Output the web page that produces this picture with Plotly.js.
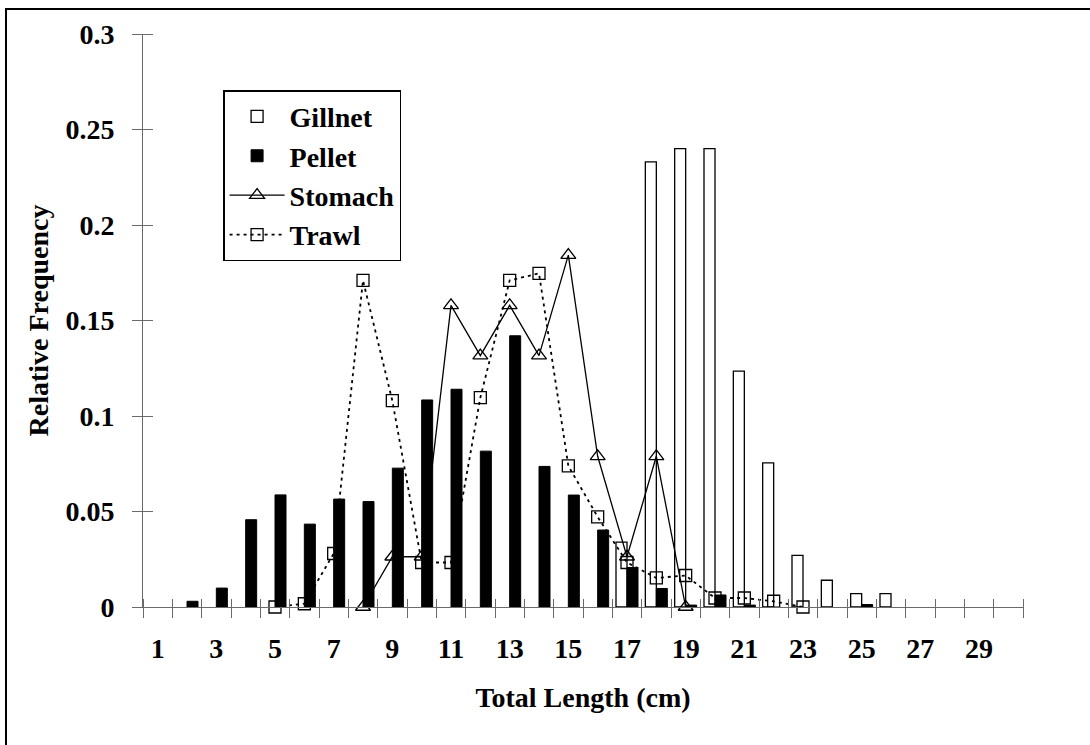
<!DOCTYPE html>
<html>
<head>
<meta charset="utf-8">
<script src="https://cdn.plot.ly/plotly-3.0.1.min.js"></script>
<style>
  html, body { margin: 0; padding: 0; background: #fff; overflow: hidden; }
  #chart { width: 1090px; height: 745px; position: absolute; left: 0; top: 0; }
  #frame { position: absolute; left: 5px; top: 8px; width: 1200px; height: 900px;
           border-left: 2px solid #000; border-top: 2px solid #000; pointer-events: none; }
</style>
</head>
<body>
<div id="chart"></div>
<div id="frame"></div>
<script>
// ---- data ----
const gillnetLengths = [17, 18, 19, 20, 21, 22, 23, 24, 25, 26];
const gillnetFreq    = [0.034, 0.233, 0.240, 0.240, 0.1235, 0.0755, 0.027, 0.014, 0.007, 0.007];

const pelletLengths = [2, 3, 4, 5, 6, 7, 8, 9, 10, 11, 12, 13, 14, 15, 16, 17, 18, 19, 20, 21, 25];
const pelletFreq    = [0.003, 0.0099, 0.0457, 0.0587, 0.0434, 0.0565, 0.0552, 0.0727, 0.1084, 0.114,
                       0.0816, 0.142, 0.0736, 0.0586, 0.0403, 0.0207, 0.0097, 0.001, 0.0063, 0.001, 0.0013];

const stomachLengths = [8, 9, 10, 11, 12, 13, 14, 15, 16, 17, 18, 19];
const stomachFreq    = [0, 0.0263, 0.0263, 0.1579, 0.1316, 0.1579, 0.1316, 0.1842, 0.0789, 0.0263, 0.0789, 0];

const trawlLengths = [5, 6, 7, 8, 9, 10, 11, 12, 13, 14, 15, 16, 17, 18, 19, 20, 21, 22, 23];
const trawlFreq    = [0, 0.0017, 0.028, 0.171, 0.108, 0.0233, 0.0233, 0.1096, 0.171, 0.1747,
                      0.0739, 0.0472, 0.0233, 0.0152, 0.0165, 0.0047, 0.0047, 0.003, 0];

const firstLength = 1, lastLength = 30;
const labelLengths = [1, 3, 5, 7, 9, 11, 13, 15, 17, 19, 21, 23, 25, 27, 29];
const yTicks = [0, 0.05, 0.1, 0.15, 0.2, 0.25, 0.3];

// ---- derived ----
const boundaries = [];
for (let v = firstLength - 0.5; v <= lastLength + 0.5; v += 1) boundaries.push(v);
const xRange = [firstLength - 0.5, lastLength + 0.5];
const yRange = [0, 0.3];

const FONT = 'Liberation Serif, Times New Roman, serif';
const AX = '#6a6a6a';
const W = 1090, H = 745, ML = 143, MR = 67, MT = 34, MB = 137.5;
const plotW = W - ML - MR, plotH = H - MT - MB;
const half = 9.5; // crossing-tick half length (px)

const traces = [
  { type: 'bar', name: 'Gillnet', x: gillnetLengths, y: gillnetFreq,
    marker: { color: '#ffffff', line: { color: '#000', width: 1.3 } }, xaxis: 'x', yaxis: 'y' },
  { type: 'bar', name: 'Pellet', x: pelletLengths, y: pelletFreq,
    marker: { color: '#000000', line: { color: '#000', width: 1 } }, xaxis: 'x', yaxis: 'y' },
  { type: 'scatter', mode: 'lines+markers', name: 'Stomach', x: stomachLengths, y: stomachFreq,
    cliponaxis: false,
    line: { color: '#000', width: 1.3 },
    marker: { symbol: 'triangle-up-open', size: 13, color: '#000', line: { width: 1.3 } },
    xaxis: 'x2', yaxis: 'y2' },
  { type: 'scatter', mode: 'lines+markers', name: 'Trawl', x: trawlLengths, y: trawlFreq,
    cliponaxis: false,
    line: { color: '#000', width: 1.8, dash: '3px,4px' },
    marker: { symbol: 'square-open', size: 12, color: '#000', line: { width: 1.3 } },
    xaxis: 'x2', yaxis: 'y2' }
];

const tf = { family: FONT, size: 28, color: '#000', weight: 'bold' };

const layout = {
  width: W, height: H,
  margin: { l: ML, r: MR, t: MT, b: MB },
  paper_bgcolor: '#fff', plot_bgcolor: '#fff',
  font: tf,
  showlegend: true,
  barmode: 'group', bargap: 0.25, bargroupgap: 0,
  legend: {
    x: 0.091, y: 0.902, xanchor: 'left', yanchor: 'top',
    bgcolor: '#fff', bordercolor: '#000', borderwidth: 1.5,
    font: tf, itemwidth: 55, tracegroupgap: 0
  },
  xaxis: {
    range: xRange, type: 'linear', tickmode: 'array', tickvals: labelLengths,
    ticktext: labelLengths.map(String),
    ticks: '', showticklabels: true, ticklabelstandoff: 16, tickfont: tf,
    showline: true, linecolor: AX, linewidth: 1,
    showgrid: false, zeroline: false, fixedrange: true,
    title: { text: 'Total Length (cm)', font: tf, standoff: 24 }
  },
  xaxis2: {
    overlaying: 'x', anchor: 'free', position: half / plotH, side: 'bottom',
    range: xRange, type: 'linear', tickmode: 'array', tickvals: boundaries,
    ticks: 'outside', ticklen: 2 * half, tickcolor: AX, tickwidth: 1,
    showticklabels: false, showline: false, showgrid: false, zeroline: false, fixedrange: true
  },
  yaxis: {
    range: yRange, tickmode: 'array', tickvals: yTicks,
    ticks: 'outside', ticklen: 10, tickcolor: AX, tickwidth: 1, ticklabelstandoff: 12,
    showline: true, linecolor: AX, linewidth: 1, showgrid: false, zeroline: false, fixedrange: true,
    tickfont: tf,
    title: { text: 'Relative Frequency', font: tf, standoff: 8 }
  },
  yaxis2: {
    overlaying: 'y', anchor: 'free', position: half / plotW, side: 'left',
    range: yRange, tickmode: 'array', tickvals: yTicks,
    ticks: 'outside', ticklen: 2 * half, tickcolor: AX, tickwidth: 1,
    showticklabels: false, showline: false, showgrid: false, zeroline: false, fixedrange: true
  }
};

Plotly.newPlot('chart', traces, layout, { staticPlot: true, displayModeBar: false });
</script>
</body>
</html>
